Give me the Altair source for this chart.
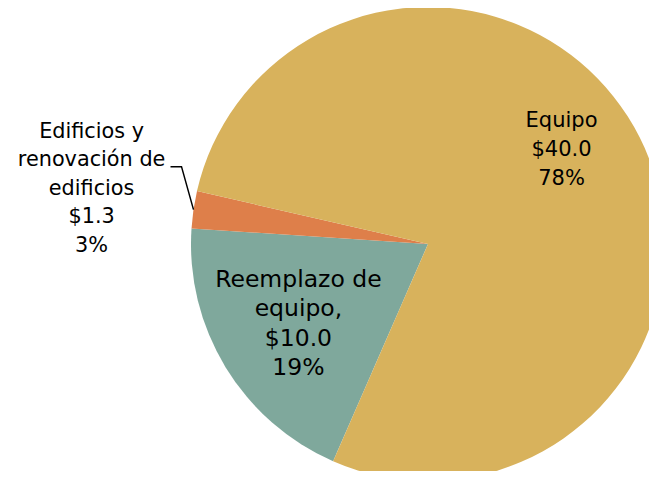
import math
import altair as alt
import pandas as pd

# ---- data ----
categories = ["Reemplazo de equipo", "Edificios y renovación de edificios", "Equipo"]
values = [10.0, 1.3, 40.0]
label_lines = [
    "Reemplazo de\nequipo,\n$10.0\n19%",
    "Edificios y\nrenovación de\nedificios\n$1.3\n3%",
    "Equipo\n$40.0\n78%",
]
colors = ["#7FA89C", "#DE7F4A", "#D8B25C"]
stack_order = [0, 1, 2]

df = pd.DataFrame({"cat": categories, "value": values, "label": label_lines, "order": stack_order})

# ---- layout ----
W, H = 641, 463
CX, CY = 420, 236
R = 237
START = math.radians(203.6)

base = alt.Chart(df).encode(
    theta=alt.Theta("value:Q", stack=True,
                    scale=alt.Scale(range=[START, START + 2 * math.pi])),
    order=alt.Order("order:Q"),
    x=alt.value(CX),
    y=alt.value(CY),
)

pie = base.mark_arc(radius=R).encode(
    color=alt.Color("cat:N", scale=alt.Scale(domain=categories, range=colors), legend=None)
)

def label_layer(cat, radius, dx, dy, font, size, lh, nlines):
    # Vega puts the first line at the anchor; shift so the block is centred
    return base.mark_text(
        radius=radius, dx=dx, dy=dy - (nlines - 1) * lh / 2, font=font, fontSize=size,
        lineHeight=lh, align="center", baseline="middle", lineBreak="\n", color="black",
    ).encode(
        text=alt.condition(f"datum.cat == '{cat}'", alt.Text("label:N"), alt.value(""))
    )

t_reemp = label_layer("Reemplazo de equipo", 154, 2, 0, "DejaVu Sans", 23.5, 29.5, 4)
t_equipo = label_layer("Equipo", 163, -12, -21, "DejaVu Sans", 21, 29, 3)
t_edif = label_layer("Edificios y renovación de edificios", 340, 0, -6, "DejaVu Sans", 20.8, 28.5, 5)

# leader line for the small slice, anchored at the slice's mid-angle on the rim
total = sum(values)
mid = START + (values[0] + values[1] / 2) / total * 2 * math.pi
ex, ey = CX + R * math.sin(mid), CY - R * math.cos(mid)
kx, ky = ex - 12, ey - 43
sx, sy = kx - 11, ky
leader = pd.DataFrame({"x": [sx, kx, ex], "y": [sy, ky, ey], "o": [0, 1, 2]})
line = alt.Chart(leader).mark_line(color="black", strokeWidth=1.5).encode(
    x=alt.X("x:Q", scale=None),
    y=alt.Y("y:Q", scale=None),
    order="o:Q",
)

chart = alt.layer(pie, line, t_reemp, t_equipo, t_edif).properties(
    width=W, height=H, padding=0, autosize=alt.AutoSizeParams(type="none")
).configure_view(stroke=None)

chart.save("out.html", embed_options={"renderer": "svg", "actions": False})
